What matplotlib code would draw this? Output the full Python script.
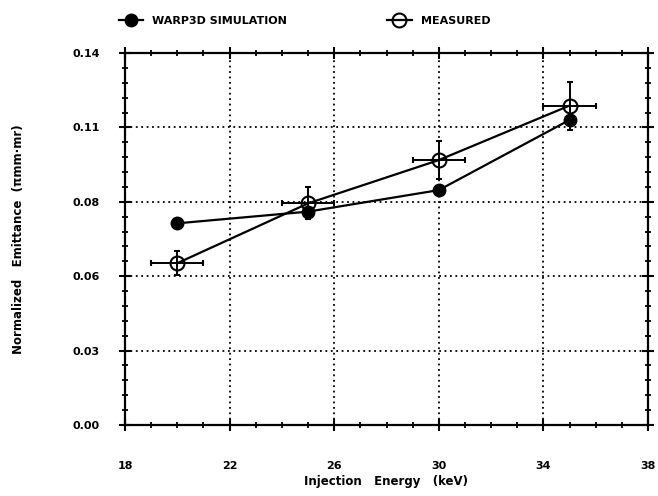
import numpy as np
import matplotlib.pyplot as plt
from matplotlib.lines import Line2D
from matplotlib.ticker import MultipleLocator, AutoMinorLocator, FormatStrFormatter

# data
energy = [20, 25, 30, 35]
sim_emit = [0.0759, 0.0803, 0.0884, 0.1148]
meas_emit = [0.0609, 0.0834, 0.0997, 0.1202]
meas_xerr = [1.0, 1.0, 1.0, 1.0]
meas_yerr = [0.0045, 0.006, 0.007, 0.009]
x_ticks = [18, 22, 26, 30, 34, 38]

fig = plt.figure(figsize=(6.58, 4.96), dpi=100)
ax = fig.add_axes([125 / 658, 1 - 425 / 496, 523 / 658, 372 / 496])

ax.plot(energy, sim_emit, color="black", lw=1.6, marker="o", ms=9,
        mfc="black", mec="black", zorder=3)
ax.errorbar(energy, meas_emit, xerr=meas_xerr, yerr=meas_yerr, color="black",
            lw=1.6, elinewidth=1.4, capsize=2, capthick=1.4, marker="o", ms=10,
            mfc="none", mec="black", mew=1.5, zorder=4)

ax.set_xlim(18, 38)
ax.set_ylim(0, 0.14)
ax.set_xticks(x_ticks)
ax.xaxis.set_minor_locator(AutoMinorLocator(4))
ax.yaxis.set_major_locator(MultipleLocator(0.028))
ax.yaxis.set_minor_locator(AutoMinorLocator(5))
ax.yaxis.set_major_formatter(FormatStrFormatter("%.2f"))

ax.grid(which="major", color="black", linestyle=(0, (1, 2)), linewidth=1.3)
for s in ax.spines.values():
    s.set_linewidth(1.6)
ax.tick_params(which="major", direction="inout", length=8, width=1.5,
               top=True, right=True, labelsize=8)
ax.tick_params(axis="y", which="major", pad=14)
ax.tick_params(axis="x", which="major", pad=22)
ax.tick_params(which="minor", direction="inout", length=4, width=1.3,
               top=True, right=True)
for lab in ax.get_xticklabels() + ax.get_yticklabels():
    lab.set_fontweight("bold")

ax.set_xlabel("Injection   Energy   (keV)", fontsize=8.5, fontweight="bold", labelpad=3)
ax.set_ylabel("Normalized   Emittance  (πmm·mr)", fontsize=8.5, fontweight="bold", labelpad=34)

handles = [
    Line2D([], [], color="black", lw=1.6, marker="o", ms=9, mfc="black"),
    Line2D([], [], color="black", lw=1.6, marker="o", ms=10, mfc="none", mew=1.5),
]
leg = ax.legend(handles, ["WARP3D SIMULATION", "MEASURED"], loc="lower left",
                bbox_to_anchor=(-0.02, 1.06), ncol=2, frameon=False,
                fontsize=8, handlelength=2.2, columnspacing=9, borderaxespad=0)
for t in leg.get_texts():
    t.set_fontweight("bold")

fig.savefig("out.png", dpi=100)
